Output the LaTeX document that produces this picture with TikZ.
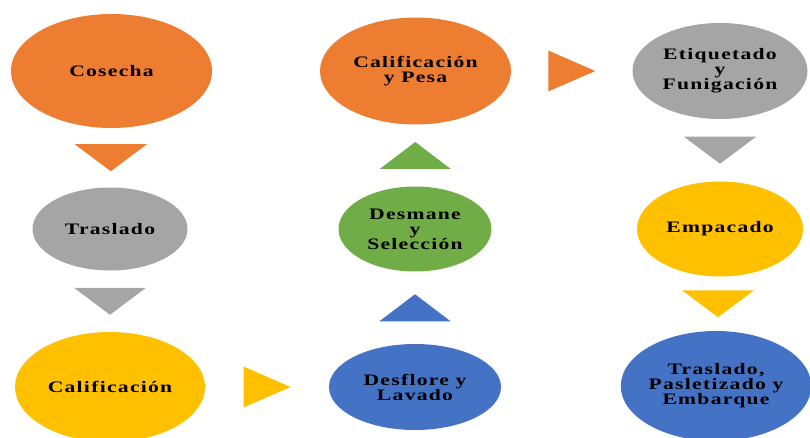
\documentclass[tikz,border=0pt]{standalone}
\usepackage{fontspec}
\usepackage{tikz}
\usetikzlibrary{shapes.geometric,calc}

\newfontfamily\pasofont{Liberation Serif}[FakeStretch=1.35,LetterSpace=8]

\definecolor{naranja}{HTML}{ED7D31}
\definecolor{gris}{HTML}{A5A5A5}
\definecolor{amarillo}{HTML}{FFC000}
\definecolor{azul}{HTML}{4472C4}
\definecolor{verde}{HTML}{70AD47}

\tikzset{
  paso/.style={ellipse, inner sep=0pt, align=center,
    font=\pasofont\bfseries\fontsize{16}{15}\selectfont},
}

% triangulos entre pasos
\newcommand{\flechaabajo}[2]{\fill[#1] ($(#2)+(-36,-13.5)$) -- ($(#2)+(36,-13.5)$) -- ($(#2)+(0,13.5)$) -- cycle;}
\newcommand{\flechaarriba}[2]{\fill[#1] ($(#2)+(-35.5,13.5)$) -- ($(#2)+(35.5,13.5)$) -- ($(#2)+(0,-13.5)$) -- cycle;}
\newcommand{\flechaderecha}[2]{\fill[#1] ($(#2)+(-23.5,-20.5)$) -- ($(#2)+(-23.5,20.5)$) -- ($(#2)+(23.5,0)$) -- cycle;}

\begin{document}
\begin{tikzpicture}[x=1pt,y=-1pt]
  \useasboundingbox (0,0) rectangle (810,438);

  \node[paso, fill=naranja, minimum width=201, minimum height=114] (cos) at (111.5,71) {Cosecha};
  \node[paso, fill=gris, minimum width=155, minimum height=83] (tra) at (110,229) {Traslado};
  \node[paso, fill=amarillo, minimum width=190, minimum height=110] (cal) at (110,387) {Calificación};

  \node[paso, fill=azul, minimum width=172, minimum height=86] (des) at (415,387) {Desflore y\\Lavado};
  \node[paso, fill=verde, minimum width=153, minimum height=85] (dsm) at (415,229) {Desmane\\y\\Selección};
  \node[paso, fill=naranja, minimum width=191, minimum height=107] (cyp) at (415.5,71) {Calificación\\y Pesa};

  \node[paso, fill=gris, minimum width=175, minimum height=96] (eti) at (720,71) {Etiquetado\\y\\Funigación};
  \node[paso, fill=amarillo, minimum width=166, minimum height=95] (emp) at (720,229) {Empacado};
  \node[paso, fill=azul, minimum width=190, minimum height=110] (tpe) at (716,386) {Traslado,\\Pasletizado y\\Embarque};

  \coordinate (f1) at ($(cos.south)!0.5!(tra.north)$);
  \coordinate (f2) at ($(tra.south)!0.5!(cal.north)$);
  \coordinate (f3) at ($(cal.east)!0.5!(des.west)$);
  \coordinate (f4) at ($(des.north)!0.5!(dsm.south)$);
  \coordinate (f5) at ($(dsm.north)!0.5!(cyp.south)$);
  \coordinate (f6) at ($(cyp.east)!0.5!(eti.west)$);
  \coordinate (f7) at ($(eti.south)!0.5!(emp.north)$);
  \coordinate (f8) at ($(emp.south)!0.5!(tpe.north)$);

  \flechaabajo{naranja}{f1}
  \flechaabajo{gris}{f2}
  \flechaderecha{amarillo}{f3}
  \flechaarriba{azul}{f4}
  \flechaarriba{verde}{f5}
  \flechaderecha{naranja}{f6}
  \flechaabajo{gris}{f7}
  \flechaabajo{amarillo}{f8}
\end{tikzpicture}
\end{document}
